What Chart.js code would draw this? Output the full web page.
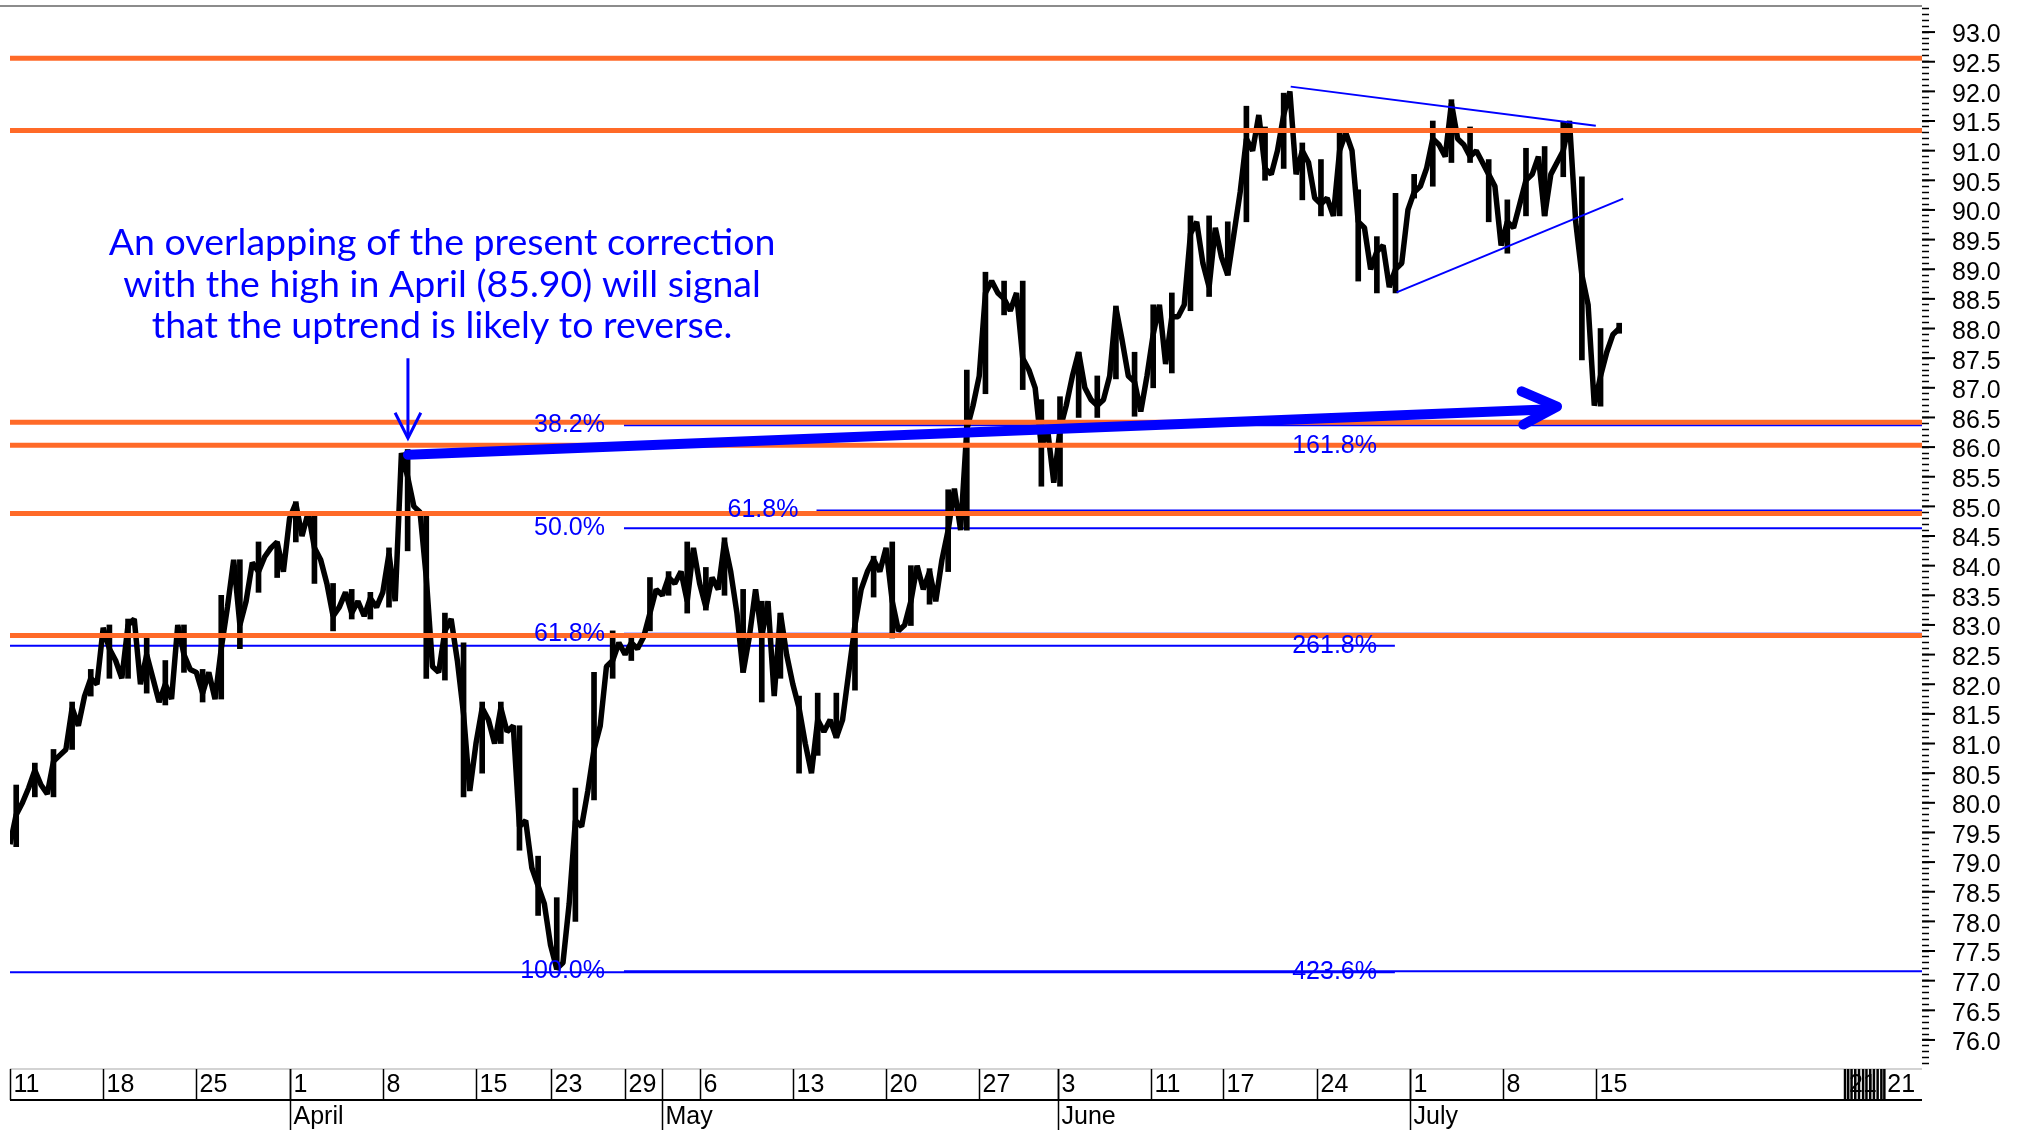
<!DOCTYPE html>
<html>
<head>
<meta charset="utf-8">
<title>Price chart</title>
<script src="https://cdn.jsdelivr.net/npm/chart.js@4.4.1/dist/chart.umd.min.js"></script>
<style>
  html, body { margin: 0; padding: 0; background: #fff; }
  #wrap { width: 2026px; height: 1130px; }
</style>
</head>
<body>
<div id="wrap"><canvas id="priceChart" width="2026" height="1130"></canvas></div>
<script>
// price readings, three per trading day, starting 11 March
const prices = [
  // Mar 11 - 15
  79.3, 79.8, 80.0,  80.25, 80.55, 80.3,  80.15, 80.7, 80.8,  80.9, 81.6, 81.3,  81.8, 82.1, 82.0,
  // Mar 18 - 22
  82.95, 82.6, 82.4,  82.1, 83.0, 83.1,  82.0, 82.5, 82.1,  81.7, 82.0, 81.75,  83.0, 82.5, 82.25,
  // Mar 25 - 29
  82.2, 81.85, 82.2,  81.75, 82.6, 83.3,  84.1, 83.0, 83.4,  84.05, 83.9, 84.15,  84.3, 84.4, 83.9,
  // Apr 1 - 5
  84.8, 85.05, 84.5,  84.9, 84.3, 84.1,  83.7, 83.15, 83.3,  83.55, 83.2, 83.4,  83.15, 83.45, 83.3,
  // Apr 8 - 12
  83.55, 84.2, 83.4,  85.9, 85.5, 85.0,  84.9, 83.8, 82.3,  82.2, 82.9, 83.1,  82.4, 81.5, 80.2,
  // Apr 15 - 23
  81.0, 81.6, 81.4,  81.0, 81.6, 81.2,  81.3, 79.6, 79.7,  78.9, 78.6, 78.3,  77.6, 77.2, 77.3,
  // Apr 24 - 30
  78.3, 79.7, 79.6,  80.2, 80.9, 81.3,  82.3, 82.4, 82.7,  82.5, 82.7, 82.6,  82.8, 83.2, 83.6,
  // May 2 - 8
  83.5, 83.8, 83.7,  83.9, 83.4, 84.3,  83.7, 83.3, 83.8,  83.6, 84.4, 83.9,  83.2, 82.2, 82.8,
  // May 9 - 15
  83.6, 82.8, 83.4,  81.8, 83.2, 82.5,  82.0, 81.6, 81.0,  80.5, 81.4, 81.2,  81.4, 81.1, 81.4,
  // May 16 - 22
  82.2, 83.0, 83.6,  83.9, 84.1, 83.9,  84.3, 83.4, 82.9,  83.0, 83.4, 84.0,  83.6, 83.9, 83.4,
  // May 23 - 29
  84.1, 84.6, 85.3,  84.6, 86.3, 86.7,  87.2, 88.6, 88.8,  88.6, 88.5, 88.3,  88.6, 87.5, 87.3,
  // May 31 - Jun 6
  87.0, 86.0, 86.3,  85.4, 86.3, 86.7,  87.2, 87.6, 87.0,  86.8, 86.7, 86.8,  87.2, 88.35, 87.8,
  // Jun 7 - 14
  87.2, 87.1, 86.6,  87.2, 87.9, 88.4,  87.4, 88.2, 88.2,  88.4, 89.6, 89.8,  89.1, 88.7, 89.7,
  // Jun 17 - 21
  89.2, 88.9, 89.6,  90.3, 91.2, 91.0,  91.6, 90.7, 90.6,  91.0, 91.6, 92.0,  90.6, 91.0, 90.8,
  // Jun 24 - 28
  90.2, 90.1, 90.2,  89.9, 91.0, 91.3,  91.0, 89.8, 89.7,  89.0, 89.3, 89.4,  88.7, 89.0, 89.1,
  // Jul 1 - 5
  90.0, 90.3, 90.4,  90.7, 91.2, 91.1,  90.9, 91.8, 91.2,  91.1, 90.9, 91.0,  90.8, 90.6, 90.4,
  // Jul 8 - 12
  89.4, 89.8, 89.7,  90.1, 90.5, 90.6,  90.9, 89.9, 90.6,  90.8, 91.0, 91.5,  89.8, 88.9, 88.4,
  // Jul 15 - 16
  86.7, 87.2, 87.6,  87.9, 88.0
];
const SAMPLES_PER_DAY = 3;

// daily low / high, one pair per trading day
const dayLow = [
  79.26, 80.1, 80.1, 80.9, 81.8, 82.1, 82.1, 81.85, 81.65, 82.2,
  81.7, 81.75, 82.6, 83.55, 83.8, 84.4, 83.7, 82.9, 83.1, 83.1,
  83.3, 84.25, 82.1, 82.07, 80.1, 80.5, 81.0, 79.2, 78.1, 77.19,
  78.0, 80.05, 82.1, 82.4, 82.9, 83.5, 83.2, 83.25, 83.5, 82.2,
  81.7, 82.1, 80.5, 80.8, 81.1, 81.9, 83.47, 82.78, 82.99, 83.35,
  83.9, 84.6, 86.9, 88.23, 86.97, 85.34, 85.34, 86.5, 86.5, 87.15,
  86.52, 87.0, 87.25, 88.3, 88.54, 88.9, 89.8, 90.5, 90.7, 90.17,
  89.9, 89.9, 88.8, 88.6, 88.6, 90.2, 90.4, 90.8, 90.8, 89.8,
  89.27, 89.9, 89.9, 90.56, 87.47, 86.69, 87.92
];
const dayHigh = [
  80.3, 80.67, 80.9, 81.7, 82.25, 83.0, 83.1, 82.85, 82.4, 83.0,
  82.25, 83.5, 84.1, 84.4, 84.4, 85.08, 84.9, 83.7, 83.6, 83.55,
  84.3, 85.96, 84.9, 83.2, 82.7, 81.7, 81.7, 81.3, 79.1, 78.4,
  80.25, 82.2, 82.9, 82.85, 83.8, 83.9, 84.4, 83.97, 84.47, 83.6,
  83.4, 83.2, 81.8, 81.85, 81.85, 83.8, 84.16, 84.4, 84.0, 83.95,
  85.28, 87.3, 88.95, 88.8, 88.8, 86.8, 86.85, 87.6, 87.2, 88.38,
  87.6, 88.4, 88.6, 89.9, 89.9, 89.8, 91.75, 91.4, 91.97, 91.13,
  90.85, 91.35, 90.34, 89.55, 90.28, 90.6, 91.5, 91.86, 91.4, 90.85,
  90.17, 91.04, 91.07, 91.49, 90.56, 88.0, 88.09
];

// horizontal levels
const orangeLevels = [92.56, 91.34, 86.42, 86.03, 84.88, 82.82];
const retraceLevels = [86.37, 84.63, 82.85, 77.16];
const retraceLabels = ['38.2%', '50.0%', '61.8%', '100.0%'];
const retrace2Levels = [84.93];
const retrace2Labels = ['61.8%'];
const extLevels = [86.02, 82.65, 77.14];
const extLabels = ['161.8%', '261.8%', '423.6%'];

// trading-day index where level lines start / end
const X_END = 102.58;
const retraceFrom = 32.94, retraceLabelAt = 31.92;
const retrace2From = 43.27, retrace2LabelAt = 42.3;
const extTo = 74.3, extLabelAt = 73.34;

// triangle and arrows
const upperTrend = [{ x: 68.71, y: 92.08 }, { x: 85.08, y: 91.42 }];
const lowerTrend = [{ x: 74.39, y: 88.61 }, { x: 86.55, y: 90.19 }];
const bigArrow = [{ x: 21.35, y: 85.87 }, { x: 82.7, y: 86.64 }];
const bigArrowHead = [{ x: 81.1, y: 86.94 }, { x: 83.0, y: 86.685 }, { x: 81.19, y: 86.38 }];
const downArrow = [{ x: 21.35, y: 87.5 }, { x: 21.35, y: 86.16 }];
const downArrowHead = [{ x: 20.66, y: 86.58 }, { x: 21.35, y: 86.15 }, { x: 22.04, y: 86.58 }];

// note
const noteLines = [
  'An overlapping of the present correction',
  'with the high in April (85.90) will signal',
  'that the uptrend is likely to reverse.'
];
const noteX = 23.18;
const noteBaselines = [89.243, 88.54, 87.848];

// axes
const priceTickLabels = ['76.0', '76.5', '77.0', '77.5', '78.0', '78.5', '79.0', '79.5', '80.0', '80.5',
  '81.0', '81.5', '82.0', '82.5', '83.0', '83.5', '84.0', '84.5', '85.0', '85.5', '86.0', '86.5',
  '87.0', '87.5', '88.0', '88.5', '89.0', '89.5', '90.0', '90.5', '91.0', '91.5', '92.0', '92.5', '93.0'];
const dayTicks = [0, 5, 10, 15, 20, 25, 29, 33, 37, 42, 47, 52, 56.2, 61.2, 65.1, 70.1, 75.1, 80.1, 85.1];
const dayLabels = ['11', '18', '25', '1', '8', '15', '23', '29', '6', '13', '20', '27', '3', '11', '17', '24', '1', '8', '15'];
const monthTicks = [15, 35, 56.2, 75.1];
const monthLabels = ['April', 'May', 'June', 'July'];
const clusterTicks = [98.45, 98.62, 98.8, 99.0, 99.2, 99.42, 99.6, 99.8, 100.0, 100.2, 100.4, 100.56];
const clusterLabel = '21';

const BLUE = '#0000ff';
const ORANGE = '#ff6a28';
const AXIS_FONT = '25px "Liberation Sans", Arial, sans-serif';
const AXIS_WIDTH = 104;

function seg(data, color, width, order, extra) {
  return Object.assign({
    data: data, borderColor: color, borderWidth: width, pointRadius: 0,
    tension: 0, order: order, fill: false
  }, extra || {});
}

function hLine(v, x0, x1, color, width, order) {
  return seg([{ x: x0, y: v }, { x: x1, y: v }], color, width, order);
}

function line(ctx, x1, y1, x2, y2) {
  ctx.beginPath();
  ctx.moveTo(x1, y1);
  ctx.lineTo(x2, y2);
  ctx.stroke();
}

// labels, note text, date box and long ticks
const overlay = {
  id: 'overlay',
  afterDatasetsDraw(chart) {
    const { ctx, scales: { x, y } } = chart;
    ctx.save();
    ctx.fillStyle = BLUE;
    ctx.font = AXIS_FONT;
    ctx.textAlign = 'right';
    ctx.textBaseline = 'middle';
    retraceLevels.forEach((v, i) => ctx.fillText(retraceLabels[i], x.getPixelForValue(retraceLabelAt), y.getPixelForValue(v)));
    retrace2Levels.forEach((v, i) => ctx.fillText(retrace2Labels[i], x.getPixelForValue(retrace2LabelAt), y.getPixelForValue(v)));
    extLevels.forEach((v, i) => ctx.fillText(extLabels[i], x.getPixelForValue(extLabelAt), y.getPixelForValue(v)));

    ctx.font = '37.5px Lato, "Open Sans", sans-serif';
    ctx.textAlign = 'center';
    ctx.textBaseline = 'alphabetic';
    noteLines.forEach((t, i) => ctx.fillText(t, x.getPixelForValue(noteX), y.getPixelForValue(noteBaselines[i])));
    ctx.restore();
  },
  afterDraw(chart) {
    const { ctx, chartArea: a, scales: { x, y } } = chart;
    const boxTop = a.bottom;
    const boxBottom = a.bottom + 31;
    const x0 = x.getPixelForValue(0);
    ctx.save();

    // frame line on top
    ctx.strokeStyle = '#8c8c8c';
    ctx.lineWidth = 2;
    line(ctx, 0, a.top, a.right, a.top);

    // long ticks on the price axis
    ctx.strokeStyle = '#000';
    ctx.lineWidth = 2;
    priceTickLabels.forEach(t => {
      const py = y.getPixelForValue(parseFloat(t));
      line(ctx, a.right, py, a.right + 13, py);
    });

    // date box
    ctx.strokeStyle = '#c4c4c4';
    ctx.lineWidth = 1.5;
    line(ctx, x0, boxTop, a.right, boxTop);
    ctx.strokeStyle = '#000';
    ctx.lineWidth = 2;
    line(ctx, x0, boxBottom, a.right, boxBottom);

    ctx.font = AXIS_FONT;
    ctx.fillStyle = '#000';
    ctx.textAlign = 'left';
    ctx.textBaseline = 'middle';
    ctx.lineWidth = 1.5;
    dayTicks.forEach((d, i) => {
      const px = Math.round(x.getPixelForValue(d)) + 0.5;
      line(ctx, px, boxTop, px, boxBottom);
      ctx.fillText(dayLabels[i], px + 3, boxTop + 16);
    });
    monthTicks.forEach((d, i) => {
      const px = Math.round(x.getPixelForValue(d)) + 0.5;
      line(ctx, px, boxTop, px, chart.height);
      ctx.fillText(monthLabels[i], px + 3, boxBottom + 17);
    });

    // crowded labels at the right end
    ctx.fillText(clusterLabel, x.getPixelForValue(clusterTicks[0]) + 4, boxTop + 16);
    ctx.lineWidth = 2.5;
    clusterTicks.forEach(d => {
      const px = x.getPixelForValue(d);
      line(ctx, px, boxTop, px, boxBottom);
    });
    ctx.fillText(clusterLabel, x.getPixelForValue(clusterTicks[clusterTicks.length - 1]) + 3, boxTop + 16);
    ctx.restore();
  }
};

function buildDatasets() {
  const sets = [];
  // arrows and triangle on top
  sets.push(seg(bigArrow, BLUE, 10, 1, { borderCapStyle: 'round' }));
  sets.push(seg(bigArrowHead, BLUE, 10, 1, { borderCapStyle: 'round', borderJoinStyle: 'round' }));
  sets.push(seg(downArrow, BLUE, 3, 1));
  sets.push(seg(downArrowHead, BLUE, 3, 1, { borderJoinStyle: 'miter' }));
  sets.push(seg(upperTrend, BLUE, 2, 2));
  sets.push(seg(lowerTrend, BLUE, 2, 2));
  orangeLevels.forEach(v => sets.push(hLine(v, 0, X_END, ORANGE, 5, 3)));
  sets.push(seg(prices.map((p, i) => ({ x: i / SAMPLES_PER_DAY, y: p })), '#000', 5.5, 4, { borderJoinStyle: 'bevel' }));
  sets.push({
    type: 'bar',
    data: dayLow.map((lo, d) => ({ x: d + 1 / SAMPLES_PER_DAY, y: [lo, dayHigh[d]] })),
    backgroundColor: '#000',
    borderWidth: 0,
    barThickness: 5,
    order: 4
  });
  retraceLevels.forEach(v => sets.push(hLine(v, retraceFrom, X_END, BLUE, 2, 5)));
  retrace2Levels.forEach(v => sets.push(hLine(v, retrace2From, X_END, BLUE, 2, 5)));
  extLevels.forEach(v => sets.push(hLine(v, 0, extTo, BLUE, 2, 5)));
  return sets;
}

document.addEventListener('DOMContentLoaded', function() {
  const ctx = document.getElementById('priceChart').getContext('2d');
  new Chart(ctx, {
    type: 'line',
    data: { datasets: buildDatasets() },
    options: {
      responsive: false,
      animation: false,
      devicePixelRatio: 1,
      events: [],
      layout: { padding: { left: 10, top: 6, right: 0, bottom: 61 } },
      plugins: { legend: { display: false }, tooltip: { enabled: false } },
      scales: {
        x: { type: 'linear', min: 0, max: X_END, offset: false, display: false },
        y: {
          type: 'linear',
          position: 'right',
          min: 75.51,
          max: 93.44,
          afterBuildTicks: scale => {
            const ticks = [];
            for (let k = 756; k <= 934; k++) ticks.push({ value: k / 10 });
            scale.ticks = ticks;
          },
          afterFit: scale => {
            scale.width = AXIS_WIDTH;
            scale.paddingTop = 0;
            scale.paddingBottom = 0;
          },
          border: { display: false },
          grid: { drawOnChartArea: false, tickLength: 7, tickColor: '#000', tickWidth: 1.5 },
          ticks: {
            autoSkip: false,
            padding: 23,
            labelOffset: 3.5,
            color: '#000',
            font: { family: '"Liberation Sans", Arial, sans-serif', size: 25 },
            callback: v => {
              const s = Number(v).toFixed(1);
              return priceTickLabels.includes(s) ? s : '';
            }
          }
        }
      }
    },
    plugins: [overlay]
  });
});
</script>
</body>
</html>
